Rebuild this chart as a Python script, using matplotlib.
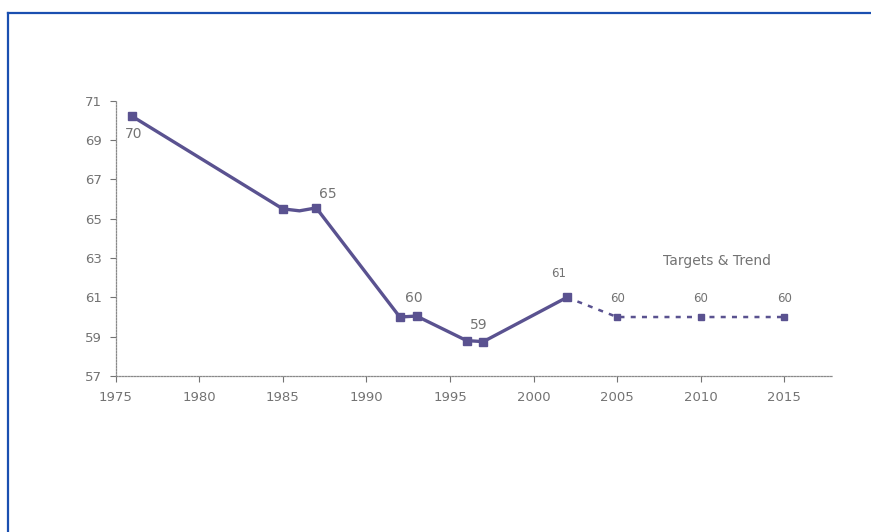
import matplotlib
matplotlib.use('Agg')
import matplotlib.pyplot as plt
from matplotlib.lines import Line2D

LINE = "#5a5290"
TXT = "#737373"
FRAME = "#1a4fb0"

# actual series
years = [1976, 1985, 1986, 1987, 1992, 1993, 1996, 1997, 2002]
values = [70.2, 65.5, 65.4, 65.55, 60.0, 60.05, 58.8, 58.75, 61.0]
marked = [1976, 1985, 1987, 1992, 1993, 1996, 1997, 2002]

# targets & trend
target_years = [2002, 2005, 2010, 2015]
target_values = [61.0, 60.0, 60.0, 60.0]

# point labels
label_years = [1976, 1987, 1992, 1996, 2002, 2005, 2010, 2015]
label_vals = [70.2, 65.55, 60.0, 58.8, 61.0, 60.0, 60.0, 60.0]
label_text = ['70', '65', '60', '59', '61', '60', '60', '60']

x_ticks = [1975, 1980, 1985, 1990, 1995, 2000, 2005, 2010, 2015]
y_ticks = [57, 59, 61, 63, 65, 67, 69, 71]

fig = plt.figure(figsize=(8.71, 5.32), dpi=100)
ax = fig.add_axes([0.1328, 0.2932, 0.8232, 0.5175])

ax.plot(years, values, color=LINE, lw=2.4, solid_joinstyle='round', zorder=3)
mk_vals = [values[years.index(y)] for y in marked]
ax.plot(marked, mk_vals, ls='none', marker='s', ms=5.5, color=LINE, zorder=4)
ax.plot(target_years, target_values, color=LINE, lw=1.8, ls=(0, (2, 2.5)), zorder=3)
ax.plot(target_years[1:], target_values[1:], ls='none', marker='s', ms=4.5,
        color=LINE, zorder=4)

# offsets in points for each label
offsets = [(1, -13), (8, 10), (10, 14), (9, 11.5), (-6, 17), (0, 13), (0, 13), (0, 13)]
sizes = [10, 10, 10, 10, 8.5, 8.5, 8.5, 8.5]
for yr, v, t, off, fs in zip(label_years, label_vals, label_text, offsets, sizes):
    ax.annotate(t, (yr, v), xytext=off, textcoords='offset points',
                ha='center', va='center', fontsize=fs, color=TXT)

ax.text(2011.0, 62.85, 'Targets & Trend', fontsize=10, color=TXT,
        ha='center', va='center')

ax.set_xlim(1975, 2017.9)
ax.set_ylim(57, 71)
ax.set_xticks(x_ticks)
ax.set_yticks(y_ticks)
ax.tick_params(colors=TXT, labelsize=9.5, length=4, width=0.8, direction='out')
ax.tick_params(axis='x', pad=7)
ax.tick_params(axis='y', pad=6)

for s in ['top', 'right']:
    ax.spines[s].set_visible(False)
for s in ['left', 'bottom']:
    ax.spines[s].set_color('#8a8a8a')
    ax.spines[s].set_linewidth(0.9)
    ax.spines[s].set_linestyle((0, (1.2, 1.2)))

# blue frame along top and left edges
fig.add_artist(Line2D([7.5 / 871, 1.0], [1 - 12.5 / 532] * 2, color=FRAME, lw=1.6,
                      transform=fig.transFigure))
fig.add_artist(Line2D([7.5 / 871] * 2, [0.0, 1 - 12.5 / 532], color=FRAME, lw=1.6,
                      transform=fig.transFigure))

fig.savefig('out.png', dpi=100, facecolor='white')
